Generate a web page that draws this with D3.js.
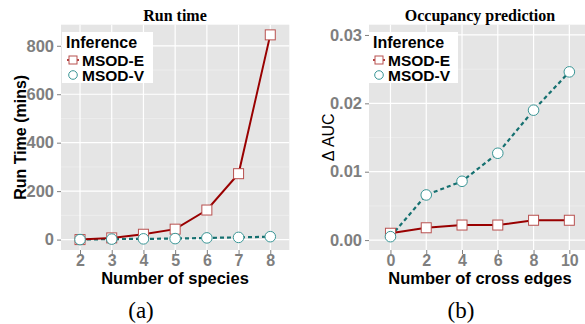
<!DOCTYPE html>
<html><head><meta charset="utf-8">
<script src="https://cdn.jsdelivr.net/npm/d3@7"></script>
<style>body{margin:0;background:#fff}svg{display:block}</style>
</head><body><svg id="c" width="585" height="324"></svg>
<script>
const species = ["2","3","4","5","6","7","8"];
const runE = [0, 7, 22, 43, 122, 272, 845];
const runV = [0, 2, 3, 4, 7, 9, 12];
const runTicks = [0, 200, 400, 600, 800];
const runMinor = [100, 300, 500, 700];

const edges = ["0","2","4","6","8","10"];
const aucE = [0.0010, 0.0018, 0.0022, 0.0022, 0.0029, 0.0029];
const aucV = [0.0005, 0.0066, 0.0086, 0.0127, 0.0190, 0.0246];
const aucTicks = [0, 0.01, 0.02, 0.03];
const aucMinor = [0.005, 0.015, 0.025];

const seriesNames = ["MSOD-E", "MSOD-V"];
const colE = "#990000", colV = "#157070";
const markE = "#b8504f", markV = "#3a9696";

const svg = d3.select("#c");
const sans = "Arial, 'Liberation Sans', Helvetica, sans-serif";
const serif = "'Times New Roman', 'Liberation Serif', Times, serif";

function panel(o) {
  const g = svg.append("g");
  const x = d3.scalePoint().domain(o.cats).range([o.x0, o.x1]).padding(0.6);
  const y = d3.scaleLinear().domain(o.ydom).range([o.y1, o.y0]);
  g.append("rect").attr("x", o.x0).attr("y", o.y0).attr("width", o.x1 - o.x0).attr("height", o.y1 - o.y0).attr("fill", "#e5e5e5");
  g.selectAll(".mn").data(o.minor).join("line")
    .attr("x1", o.x0).attr("x2", o.x1).attr("y1", d => y(d)).attr("y2", d => y(d))
    .attr("stroke", "#f2f2f2").attr("stroke-width", 0.6);
  g.selectAll(".mj").data(o.ticks).join("line")
    .attr("x1", o.x0).attr("x2", o.x1).attr("y1", d => y(d)).attr("y2", d => y(d))
    .attr("stroke", "#fff").attr("stroke-width", 1.2);
  g.selectAll(".vx").data(o.cats).join("line")
    .attr("x1", d => x(d)).attr("x2", d => x(d)).attr("y1", o.y0).attr("y2", o.y1)
    .attr("stroke", "#fff").attr("stroke-width", 1.2);

  const ya = g.append("g").attr("transform", `translate(${o.x0},0)`)
    .call(d3.axisLeft(y).tickValues(o.ticks).tickFormat(o.fmt).tickSize(4).tickPadding(3));
  const xa = g.append("g").attr("transform", `translate(0,${o.y1})`)
    .call(d3.axisBottom(x).tickSize(4).tickPadding(1));
  [ya, xa].forEach(a => {
    a.select(".domain").remove();
    a.selectAll("line").attr("stroke", "#7f7f7f");
    a.selectAll("text").attr("fill", "#7f7f7f").attr("font-family", sans)
      .attr("font-weight", "bold").attr("font-size", 16.5);
  });
  xa.selectAll("text").attr("font-size", 16);

  const line = d3.line().x((d, i) => x(o.cats[i])).y(d => y(d));
  g.append("path").attr("d", line(o.v)).attr("fill", "none").attr("stroke", colV)
    .attr("stroke-width", 2.2).attr("stroke-dasharray", "4,3");
  g.append("path").attr("d", line(o.e)).attr("fill", "none").attr("stroke", colE)
    .attr("stroke-width", 2);
  const s = 10;
  g.selectAll(".se").data(o.e).join("rect")
    .attr("x", (d, i) => x(o.cats[i]) - s / 2).attr("y", d => y(d) - s / 2)
    .attr("width", s).attr("height", s)
    .attr("fill", "#fff").attr("stroke", markE).attr("stroke-width", 1);
  g.selectAll(".cv").data(o.v).join("circle")
    .attr("cx", (d, i) => x(o.cats[i])).attr("cy", d => y(d)).attr("r", 5.3)
    .attr("fill", "#fff").attr("stroke", markV).attr("stroke-width", 1);

  const L = o.leg;
  g.append("rect").attr("x", L.x).attr("y", L.y).attr("width", L.w).attr("height", 51).attr("fill", "#fff");
  g.append("text").attr("x", L.x + 4).attr("y", L.y + 16).text("Inference")
    .attr("font-family", sans).attr("font-weight", "bold").attr("font-size", 16).attr("fill", "#000");
  seriesNames.forEach((n, i) => {
    const cy = L.y + 28 + i * 15;
    const kx = L.x + L.k;
    if (i === 0) {
      g.append("line").attr("x1", kx - 6).attr("x2", kx + 6).attr("y1", cy).attr("y2", cy)
        .attr("stroke", colE).attr("stroke-width", 1.5);
      g.append("rect").attr("x", kx - 4).attr("y", cy - 4).attr("width", 8).attr("height", 8)
        .attr("fill", "#fff").attr("stroke", markE).attr("stroke-width", 1);
    } else {
      g.append("circle").attr("cx", kx).attr("cy", cy).attr("r", 4.3)
        .attr("fill", "#fff").attr("stroke", markV).attr("stroke-width", 1);
    }
    g.append("text").attr("x", L.x + L.t).attr("y", cy + 5.5).text(n)
      .attr("font-family", sans).attr("font-weight", "bold").attr("font-size", 15.5).attr("fill", "#000");
  });

  g.append("text").attr("x", o.tx).attr("y", 21).attr("text-anchor", "middle").text(o.title)
    .attr("font-family", serif).attr("font-weight", "bold").attr("font-size", 16);
  g.append("text").attr("x", o.tx).attr("y", 284).attr("text-anchor", "middle").text(o.xlab)
    .attr("font-family", sans).attr("font-weight", "bold").attr("font-size", 16.5);
  g.append("text").attr("transform", `translate(${o.ylx},${(o.y0 + o.y1) / 2}) rotate(-90)`)
    .attr("text-anchor", "middle").text(o.ylab)
    .attr("font-family", sans).attr("font-weight", o.ybold ? "bold" : "normal").attr("font-size", 16);
  g.append("text").attr("x", o.capx).attr("y", 318).attr("text-anchor", "middle").text(o.cap)
    .attr("font-family", serif).attr("font-size", 23);
}

panel({cats: species, e: runE, v: runV, x0: 61, x1: 289.3, y0: 24.7, y1: 250,
  ydom: [-43, 887], ticks: runTicks, minor: runMinor, fmt: d3.format("d"),
  leg: {x: 62, y: 32, w: 91, k: 11, t: 20}, title: "Run time", tx: 175,
  xlab: "Number of species", ylab: "Run Time (mins)", ylx: 26, ybold: true,
  cap: "(a)", capx: 141});

panel({cats: edges, e: aucE, v: aucV, x0: 369, x1: 590.8, y0: 24.7, y1: 250,
  ydom: [-0.00145, 0.0315], ticks: aucTicks, minor: aucMinor, fmt: d3.format(".2f"),
  leg: {x: 369, y: 32, w: 89, k: 10, t: 19}, title: "Occupancy prediction", tx: 480,
  xlab: "Number of cross edges", ylab: "\u0394 AUC", ylx: 334, ybold: false,
  cap: "(b)", capx: 461});
</script></body></html>
